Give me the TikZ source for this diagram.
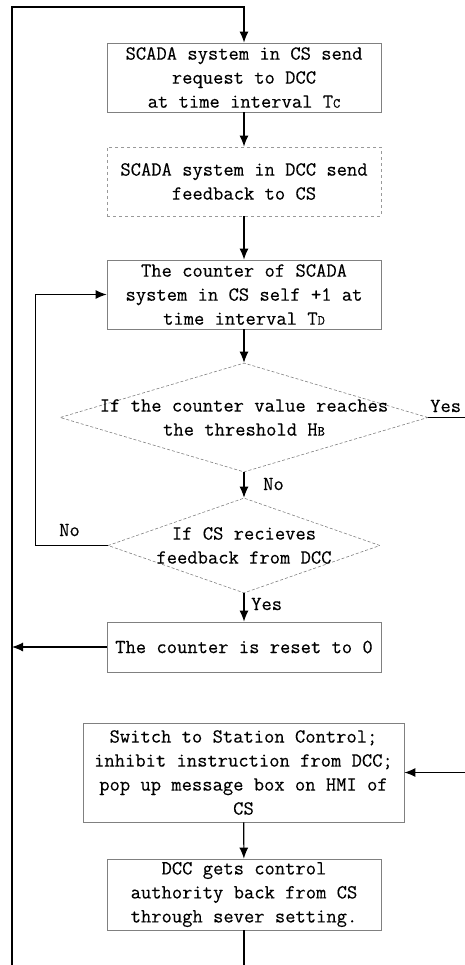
\documentclass[tikz,border=0pt]{standalone}
\usepackage{fontspec}
\setmonofont{Latin Modern Mono}[FakeBold=0.25]
\usetikzlibrary{arrows.meta,shapes.geometric}
\newcommand{\smcap}[1]{{\fontsize{14}{14}\selectfont #1}}
\begin{document}
\begin{tikzpicture}[x=1pt,y=-1pt,
  every node/.style={font=\ttfamily\fontsize{20}{24}\selectfont, text=black},
  box/.style={draw=black!50, line width=0.8pt, rectangle, align=center, inner sep=0pt},
  dbox/.style={box, draw=black!40, dashed},
  dia/.style={diamond, draw=black!50, densely dashed, line width=0.6pt, inner sep=0pt},
  lbl/.style={align=center, inner sep=0pt},
  arr/.style={-{Latex[length=11pt,width=9pt]}, line width=1.1pt},
  conn/.style={line width=1.1pt}
]
\useasboundingbox (0,0) rectangle (465,965);

\node[box, minimum width=274pt, minimum height=69pt] (b1) at (244,77.5)
  {SCADA system in CS send\\request to DCC\\at time interval T\smcap{C}};
\node[dbox, minimum width=274pt, minimum height=69pt] (b2) at (244,181.5)
  {SCADA system in DCC send\\feedback to CS};
\node[box, minimum width=274pt, minimum height=69pt] (b3) at (244,294.5)
  {The counter of SCADA\\system in CS self +1 at\\time interval T\smcap{D}};
\node[dia, minimum width=368pt, minimum height=109pt] (d1) at (244,417.5) {};
\node[lbl] (t1) at (d1.center) {If the counter value reaches\\the threshold H\smcap{B}};
\node[dia, minimum width=272pt, minimum height=95pt] (d2) at (244,545.5) {};
\node[lbl] (t2) at (d2.center) {If CS recieves\\feedback from DCC};
\node[box, minimum width=274pt, minimum height=50pt] (b4) at (244,647)
  {The counter is reset to 0};
\node[box, minimum width=321pt, minimum height=99pt] (b5) at (243.5,772.5)
  {Switch to Station Control;\\inhibit instruction from DCC;\\pop up message box on HMI of\\CS};
\node[box, minimum width=274pt, minimum height=71pt] (b6) at (244,894.5)
  {DCC gets control\\authority back from CS\\through sever setting.};

\node[lbl, anchor=west] (yes1) at (430,406) {Yes};
\node[lbl, anchor=west] (no1) at (263,484) {No};
\node[lbl, anchor=west] (no2) at (59,530) {No};
\node[lbl, anchor=west] (yes2) at (251,604) {Yes};

\coordinate (lb) at (12,965);
\coordinate (lt) at (12,7);
\coordinate (yesend) at (465,417.5);
\coordinate (rin) at (465,772.5);
\coordinate (bend) at (244,965);

\draw[arr] (lb) -- (lt) -| (b1.north);
\draw[arr] (b1) -- (b2);
\draw[arr] (b2) -- (b3);
\draw[arr] (b3) -- (d1.north);
\draw[arr] (d1.south) -- (d2.north);
\draw[arr] (d2.south) -- (b4);
\draw[arr] (d2.west) -- ++(-72,0) |- (b3.west);
\draw[conn] (d1.east) -- (yesend);
\draw[arr] (b4.west) -- (b4.west -| lt);
\draw[arr] (rin) -- (b5.east);
\draw[arr] (b5) -- (b6);
\draw[conn] (b6.south) -- (bend);
\end{tikzpicture}
\end{document}
